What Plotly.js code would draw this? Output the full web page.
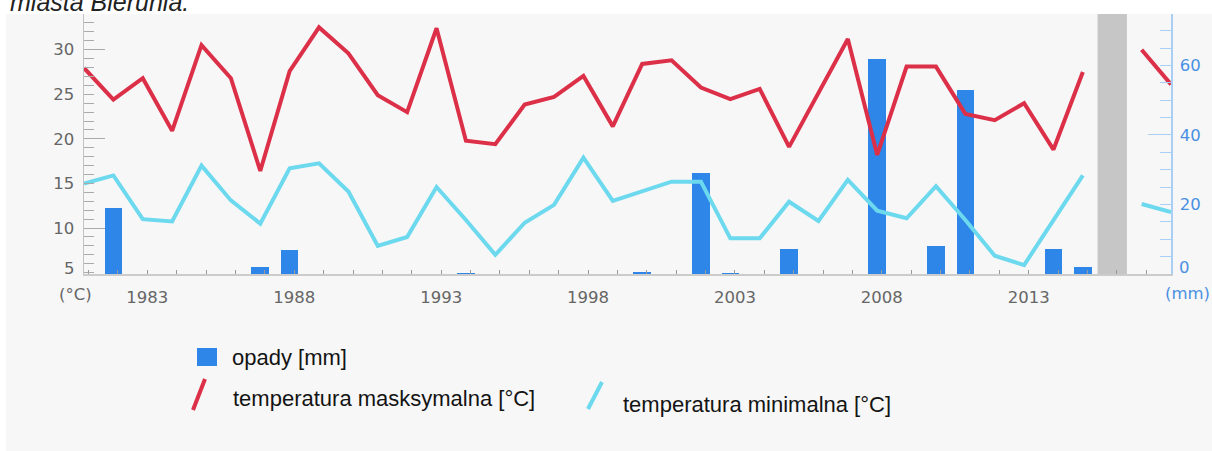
<!DOCTYPE html>
<html>
<head>
<meta charset="utf-8">
<script src="https://cdn.plot.ly/plotly-3.0.1.min.js"></script>
<style>
  html, body { margin: 0; padding: 0; background: #ffffff; }
  #chart { width: 1212px; height: 451px; }
</style>
</head>
<body>
<div id="chart"></div>
<script>
// ---- data ----
const years = [1981,1982,1983,1984,1985,1986,1987,1988,1989,1990,
               1991,1992,1993,1994,1995,1996,1997,1998,1999,2000,
               2001,2002,2003,2004,2005,2006,2007,2008,2009,2010,
               2011,2012,2013,2014,2015,2016,2017,2018];
const tempMax = [27.95,24.4,26.8,20.9,30.5,26.8,16.4,27.6,32.5,29.6,
                 24.9,23.0,32.4,19.8,19.4,23.85,24.7,27.05,21.4,28.4,
                 28.8,25.75,24.45,25.6,19.1,25.2,31.2,18.2,28.1,28.1,
                 22.8,22.1,24.0,18.8,27.5,null,30.0,26.1];
const tempMin = [15.0,15.9,11.0,10.75,17.0,13.1,10.5,16.7,17.25,14.1,
                 8.0,9.0,14.6,10.9,7.0,10.6,12.6,17.9,13.05,14.1,
                 15.2,15.2,8.85,8.85,12.95,10.8,15.4,11.95,11.1,14.7,
                 10.9,6.9,5.85,10.9,15.9,null,12.7,11.8];
const opady = [0,18.9,0,0,0,0,2.1,6.9,0,0,
               0,0,0,0.2,0,0,0,0,0,0.7,
               0,29.2,0.2,0,7.1,0,0,61.8,0,8.2,
               52.9,0,0,7.3,1.9,null,null,null];
const xTickYears = [1983,1988,1993,1998,2003,2008,2013];
const tempTickVals = [10,15,20,25,30];
const rainTickVals = [20,40,60];
const gapYear = 2016;
const seriesNames = ['opady [mm]', 'temperatura masksymalna [°C]', 'temperatura minimalna [°C]'];
const titleText = 'miasta Bierunia.';

// ---- style ----
const W = 1212, H = 451;
const L = 84, R = 1171, T = 14, B = 274;
const px = x => (x - L) / (R - L);
const py = y => (B - y) / (B - T);
const tickOffset = 0.157;
const RED = '#dc3049', CYAN = '#6cd9ee', BLUE = '#2e86e8';
const AXGRAY = '#666666', AXBLUE = '#4a90e2';
const tempRange = [4.85, 34.0];
const rainRange = [0, 74.8];

const traces = [
  { type: 'bar', x: years, y: opady, name: seriesNames[0], yaxis: 'y',
    width: 0.6, marker: { color: BLUE, line: { width: 0 } }, hoverinfo: 'x+y' },
  { type: 'scatter', mode: 'lines', x: years, y: tempMax, name: seriesNames[1], yaxis: 'y2',
    line: { color: RED, width: 4 }, connectgaps: false },
  { type: 'scatter', mode: 'lines', x: years, y: tempMin, name: seriesNames[2], yaxis: 'y2',
    line: { color: CYAN, width: 4 }, connectgaps: false },
  { type: 'scatter', mode: 'lines', x: [], y: [], yaxis: 'y3', showlegend: false, hoverinfo: 'skip' },
  { type: 'scatter', mode: 'lines', x: [], y: [], yaxis: 'y4', showlegend: false, hoverinfo: 'skip' }
];

const tickFont = { family: 'DejaVu Sans', size: 16.5, color: AXGRAY };
const legFont = { family: 'Liberation Sans, Arial', size: 22, color: '#141414' };

const layout = {
  width: W, height: H, autosize: false,
  margin: { l: L, r: W - R, t: T, b: H - B, pad: 0 },
  paper_bgcolor: '#ffffff', plot_bgcolor: '#f7f7f7',
  showlegend: false,
  bargap: 0,
  xaxis: {
    range: [years[0], years[years.length - 1]],
    tickmode: 'array',
    tickvals: xTickYears.map(v => v + tickOffset),
    ticktext: xTickYears.map(String),
    ticks: 'inside', ticklen: 4, tickcolor: '#999', tickwidth: 1,
    minor: { tickmode: 'array', tickvals: years.map(v => v + tickOffset), ticks: 'inside', ticklen: 4, tickcolor: '#999', tickwidth: 1 },
    showline: true, linecolor: '#cccccc', linewidth: 2,
    showgrid: false, zeroline: false,
    tickfont: tickFont, ticklabelstandoff: 7
  },
  yaxis: {
    range: rainRange, side: 'right',
    tickmode: 'array', tickvals: rainTickVals,
    ticks: 'inside', ticklen: 11, tickcolor: '#a9cff5', tickwidth: 1,
    minor: { dtick: 5, tick0: 0, ticks: 'inside', ticklen: 11, tickcolor: '#a9cff5', tickwidth: 1 },
    showline: true, linecolor: '#a9cff5', linewidth: 1.5,
    showgrid: false, zeroline: false,
    tickfont: { family: 'DejaVu Sans', size: 16.5, color: AXBLUE }, ticklabelstandoff: 4
  },
  yaxis2: {
    range: tempRange, overlaying: 'y', side: 'left',
    tickmode: 'array', tickvals: tempTickVals,
    ticks: 'inside', ticklen: 10, tickcolor: '#aaaaaa', tickwidth: 1,
    minor: { dtick: 1, tick0: 0, ticks: 'inside', ticklen: 10, tickcolor: '#aaaaaa', tickwidth: 1 },
    showline: true, linecolor: '#c4c4c4', linewidth: 1.5,
    showgrid: false, zeroline: false,
    tickfont: tickFont, ticklabelstandoff: 5
  },
  yaxis3: {
    range: tempRange, overlaying: 'y', side: 'left',
    tickmode: 'array', tickvals: [10, 20, 30],
    ticks: 'inside', ticklen: 21, tickcolor: '#aaaaaa', tickwidth: 1,
    showticklabels: false, showline: false, showgrid: false, zeroline: false
  },
  yaxis4: {
    range: rainRange, overlaying: 'y', side: 'right',
    tickmode: 'array', tickvals: [40],
    ticks: 'inside', ticklen: 23, tickcolor: '#a9cff5', tickwidth: 1,
    showticklabels: false, showline: false, showgrid: false, zeroline: false
  },
  shapes: [
    { type: 'rect', xref: 'paper', yref: 'paper', x0: px(6), x1: px(W + 2), y0: py(T), y1: py(H + 2),
      fillcolor: '#f7f7f7', line: { width: 0 }, layer: 'below' },
    { type: 'rect', xref: 'x', yref: 'paper', x0: gapYear - 0.5, x1: gapYear + 0.5, y0: 0, y1: 1,
      fillcolor: '#c6c6c6', line: { width: 0 }, layer: 'below' },
    // legend symbols
    { type: 'rect', xref: 'paper', yref: 'paper', x0: px(197), x1: px(217), y0: py(366), y1: py(348),
      fillcolor: BLUE, line: { width: 0 } },
    { type: 'line', xref: 'paper', yref: 'paper', x0: px(193), y0: py(410), x1: px(205), y1: py(379),
      line: { color: RED, width: 4 } },
    { type: 'line', xref: 'paper', yref: 'paper', x0: px(588), y0: py(409), x1: px(602), y1: py(382),
      line: { color: CYAN, width: 4 } }
  ],
  annotations: [
    { xref: 'paper', yref: 'paper', x: px(8), y: py(18), xanchor: 'left', yanchor: 'bottom',
      text: '<i>' + titleText + '</i>', showarrow: false,
      font: { family: 'Liberation Sans, Arial', size: 25, color: '#222' } },
    { xref: 'paper', yref: 'paper', x: px(77), y: py(268), xanchor: 'right', yanchor: 'middle',
      text: '5', showarrow: false, font: tickFont },
    { xref: 'paper', yref: 'paper', x: px(1177), y: py(267), xanchor: 'left', yanchor: 'middle',
      text: '0', showarrow: false, font: { family: 'DejaVu Sans', size: 16.5, color: AXBLUE } },
    { xref: 'paper', yref: 'paper', x: px(75), y: py(294), xanchor: 'center', yanchor: 'middle',
      text: '(°C)', showarrow: false, font: tickFont },
    { xref: 'paper', yref: 'paper', x: px(1187.5), y: py(293), xanchor: 'center', yanchor: 'middle',
      text: '(mm)', showarrow: false, font: { family: 'DejaVu Sans', size: 16.5, color: AXBLUE } },
    { xref: 'paper', yref: 'paper', x: px(230), y: py(357), xanchor: 'left', yanchor: 'middle',
      text: seriesNames[0], showarrow: false, font: legFont },
    { xref: 'paper', yref: 'paper', x: px(231), y: py(398), xanchor: 'left', yanchor: 'middle',
      text: seriesNames[1], showarrow: false, font: legFont },
    { xref: 'paper', yref: 'paper', x: px(621), y: py(404), xanchor: 'left', yanchor: 'middle',
      text: seriesNames[2], showarrow: false, font: legFont }
  ]
};

Plotly.newPlot('chart', traces, layout, { displayModeBar: false, staticPlot: true });
</script>
</body>
</html>
